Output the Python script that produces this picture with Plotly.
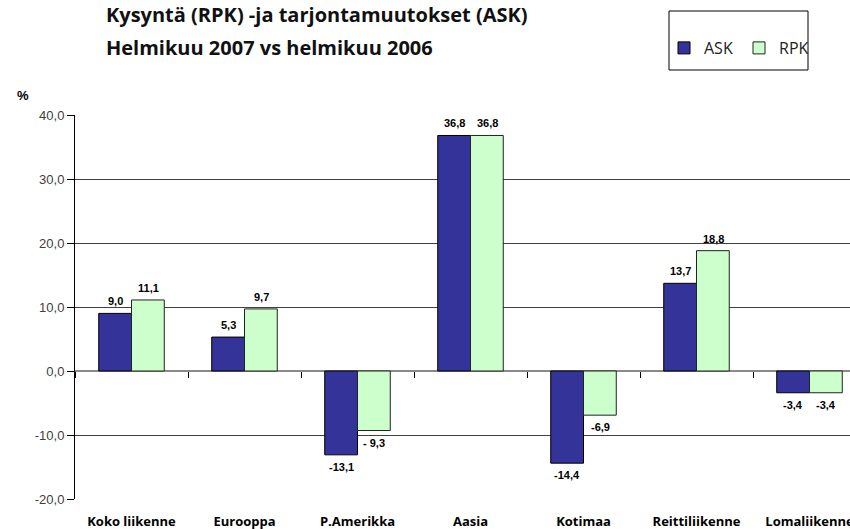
import plotly.graph_objects as go

categories = ["Koko liikenne", "Eurooppa", "P.Amerikka", "Aasia", "Kotimaa", "Reittiliikenne", "Lomaliikenne"]
ask_values = [9.0, 5.3, -13.1, 36.8, -14.4, 13.7, -3.4]
rpk_values = [11.1, 9.7, -9.3, 36.8, -6.9, 18.8, -3.4]
ask_labels = ["9,0", "5,3", "-13,1", "36,8", "-14,4", "13,7", "-3,4"]
rpk_labels = ["11,1", "9,7", "- 9,3", "36,8", "-6,9", "18,8", "-3,4"]
y_ticks = [-20, -10, 0, 10, 20, 30, 40]
y_ticktext = ["-20,0", "-10,0", "0,0", "10,0", "20,0", "30,0", "40,0"]

W, H = 850, 529
ML, MR, MT, MB = 75, 0, 115, 30
PW = W - ML - MR
PH = H - MT - MB
CAT_W = 113.0
x_max = -0.5 + PW / CAT_W

def px_x(p):
    return (p - ML) / PW

def px_y(p):
    return (H - MB - p) / PH

fig = go.Figure()
fig.add_trace(go.Bar(name="ASK", x=categories, y=ask_values,
                     marker=dict(color="#333399", line=dict(color="#000000", width=1))))
fig.add_trace(go.Bar(name="RPK", x=categories, y=rpk_values,
                     marker=dict(color="#CCFFCC", line=dict(color="#222222", width=1))))

label_font = dict(family="Liberation Sans, Arial", size=11, color="#000000")
annotations = []
for cat, v, t in zip(categories, ask_values, ask_labels):
    annotations.append(dict(x=cat, y=v, text="<b>" + t + "</b>", showarrow=False, xshift=-16.5,
                            yshift=12 if v >= 0 else -12, yanchor="middle", font=label_font))
for cat, v, t in zip(categories, rpk_values, rpk_labels):
    annotations.append(dict(x=cat, y=v, text="<b>" + t + "</b>", showarrow=False, xshift=16.5,
                            yshift=12 if v >= 0 else -12, yanchor="middle", font=label_font))
annotations.append(dict(xref="paper", yref="paper", x=0, y=1, xanchor="left", yanchor="middle",
                        xshift=-60, yshift=20, text="<b>%</b>", showarrow=False,
                        font=dict(family="Liberation Sans, Arial", size=13, color="#000000")))
annotations.append(dict(xref="paper", yref="paper", x=px_x(104), y=px_y(15), xanchor="left", yanchor="middle",
                        text="<b>Kysyntä (RPK) -ja tarjontamuutokset (ASK)</b>", showarrow=False,
                        font=dict(family="Open Sans", size=20, color="#111111")))
annotations.append(dict(xref="paper", yref="paper", x=px_x(104), y=px_y(47), xanchor="left", yanchor="middle",
                        text="<b>Helmikuu 2007 vs helmikuu 2006</b>", showarrow=False,
                        font=dict(family="Open Sans", size=20, color="#111111")))

fig.update_layout(
    template="none",
    width=W, height=H,
    margin=dict(l=ML, r=MR, t=MT, b=MB, pad=0, autoexpand=False),
    paper_bgcolor="white", plot_bgcolor="white",
    barmode="group", bargap=0.42, bargroupgap=0,
    showlegend=True,
    legend=dict(orientation="h", x=px_x(664), y=px_y(31), xanchor="left", yanchor="top",
                font=dict(family="Open Sans", size=16, color="#222222"),
                bgcolor="rgba(0,0,0,0)", borderwidth=0,
                entrywidth=30, entrywidthmode="pixels", traceorder="normal"),
    annotations=annotations,
    shapes=[dict(type="rect", xref="paper", yref="paper",
                 x0=px_x(669), x1=px_x(808), y0=px_y(70), y1=px_y(11),
                 line=dict(color="#000000", width=1), fillcolor="rgba(0,0,0,0)", layer="above")],
    xaxis=dict(type="category", categoryorder="array", categoryarray=categories,
               range=[-0.5, x_max], anchor="free", position=1/3,
               showgrid=False, showline=False, zeroline=False,
               ticks="outside", tickson="boundaries", ticklen=6, tickcolor="#000000", tickwidth=1,
               ticklabelstandoff=141, automargin=False,
               tickprefix="<b>", ticksuffix="</b>",
               tickfont=dict(family="Open Sans", size=13, color="#000000")),
    yaxis=dict(range=[-20, 40], tickvals=y_ticks, ticktext=y_ticktext,
               showgrid=True, gridcolor="#404040", gridwidth=1,
               zeroline=True, zerolinecolor="#8a8a8a", zerolinewidth=1.5,
               showline=True, linecolor="#000000", linewidth=1,
               ticks="outside", ticklen=7, tickcolor="#000000",
               automargin=False,
               tickfont=dict(family="Liberation Sans, Arial", size=13, color="#404040")),
)

fig.write_html("out.html", config={"displayModeBar": False},
               post_script="document.body.style.margin='0';document.body.style.overflow='hidden';")
